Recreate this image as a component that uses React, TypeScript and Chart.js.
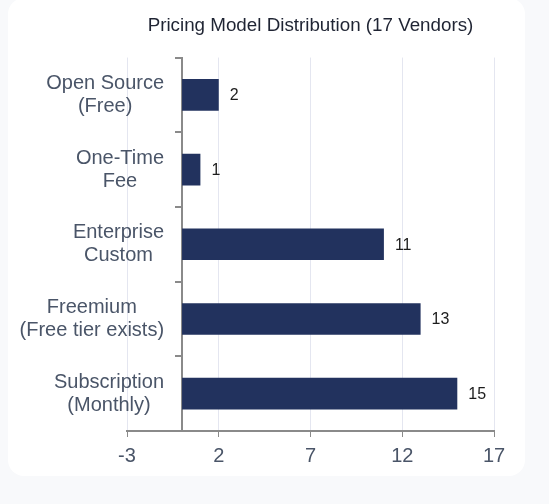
import { useEffect, useRef } from "react"
import Chart from "chart.js/auto"

// Pricing models (two-line labels) and how many of the 17 vendors use each
const pricingModels = [
  ["Open Source", "(Free)"],
  ["One-Time", "Fee"],
  ["Enterprise", "Custom"],
  ["Freemium", "(Free tier exists)"],
  ["Subscription", "(Monthly)"],
]
const vendorCounts = [2, 1, 11, 13, 15]
const xTickValues = [-3, 2, 7, 12, 17]

const FONT = "'Liberation Sans', Arial, Helvetica, sans-serif"

// value next to the end of each bar
const valueLabels = {
  id: "valueLabels",
  afterDatasetsDraw(chart: Chart) {
    const ctx = chart.ctx
    const meta = chart.getDatasetMeta(0)
    ctx.save()
    ctx.font = `16px ${FONT}`
    ctx.fillStyle = "#1c1c1c"
    ctx.textAlign = "left"
    ctx.textBaseline = "middle"
    meta.data.forEach((bar: any, i: number) => {
      ctx.fillText(String(vendorCounts[i]), bar.x + 11, bar.y + 1)
    })
    ctx.restore()
  },
}

// category labels: each block centred on itself, right edge next to the axis at x = 0
const categoryLabels = {
  id: "categoryLabels",
  afterDraw(chart: Chart) {
    const ctx = chart.ctx
    const yScale: any = chart.scales.y
    const axisX = chart.scales.x.getPixelForValue(0)
    const lineHeight = 23
    ctx.save()
    ctx.font = `20px ${FONT}`
    ctx.fillStyle = "#4a5568"
    ctx.textAlign = "center"
    ctx.textBaseline = "middle"
    pricingModels.forEach((lines, i) => {
      const y = yScale.getPixelForTick(i)
      const w = Math.max(...lines.map((l) => ctx.measureText(l).width))
      const cx = axisX - 18 - w / 2
      lines.forEach((line, j) => {
        ctx.fillText(line, cx, y + (j - (lines.length - 1) / 2) * lineHeight)
      })
    })
    ctx.restore()
  },
}

function PricingChart() {
  const chartRef = useRef<HTMLCanvasElement>(null)
  const chartInstance = useRef<Chart | null>(null)

  useEffect(() => {
    if (!chartRef.current) return
    if (chartInstance.current) chartInstance.current.destroy()
    const ctx = chartRef.current.getContext("2d")
    if (!ctx) return

    chartInstance.current = new Chart(ctx, {
      type: "bar",
      data: {
        labels: pricingModels,
        datasets: [
          {
            label: "Vendors",
            data: vendorCounts,
            backgroundColor: "#22325e",
            categoryPercentage: 0.8,
            barPercentage: 0.53,
          },
        ],
      },
      plugins: [valueLabels, categoryLabels],
      options: {
        indexAxis: "y",
        animation: false,
        responsive: true,
        maintainAspectRatio: false,
        layout: { padding: { left: 119, right: 31, top: 0, bottom: 1 } },
        scales: {
          x: {
            type: "linear",
            min: -3,
            max: 17,
            afterBuildTicks: (scale: any) => {
              scale.ticks = xTickValues.map((v) => ({ value: v }))
            },
            grid: {
              color: "#e4e6f0",
              tickColor: "#8a8a8a",
              tickLength: 6,
              lineWidth: 1,
            },
            border: { color: "#8a8a8a", width: 2 },
            ticks: {
              font: { family: FONT, size: 20 },
              color: "#4a5568",
              padding: 7,
              maxRotation: 0,
            },
          },
          y: {
            position: { x: 0 } as any,
            grid: {
              drawOnChartArea: false,
              color: "#8a8a8a",
              tickLength: 6,
              lineWidth: 2,
            },
            border: { color: "#8a8a8a", width: 2 },
            ticks: { display: false },
          },
        },
        plugins: {
          legend: { display: false },
          tooltip: { enabled: false },
          title: {
            display: true,
            text: "Pricing Model Distribution (17 Vendors)",
            color: "#1f2433",
            font: { family: FONT, size: 18.8, weight: "normal" },
            padding: { top: 17, bottom: 20 },
          },
        },
      },
    })

    return () => {
      if (chartInstance.current) {
        chartInstance.current.destroy()
        chartInstance.current = null
      }
    }
  }, [])

  return <canvas ref={chartRef} />
}

export default function App() {
  return (
    <div style={{ position: "fixed", inset: 0, background: "#f8f9fb" }}>
      <div
        style={{
          position: "absolute",
          left: 8,
          top: -2,
          width: 517,
          height: 478,
          background: "#ffffff",
          borderRadius: 16,
          overflow: "hidden",
        }}
      >
        <PricingChart />
      </div>
    </div>
  )
}
